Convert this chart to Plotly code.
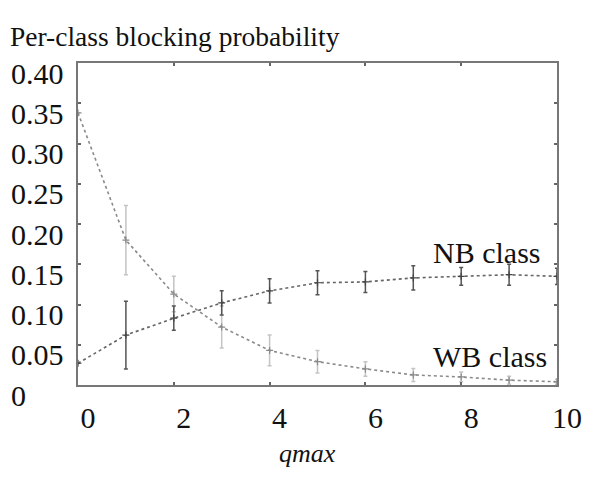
import plotly.graph_objects as go

# ---- data ----
q_max = [0, 1, 2, 3, 4, 5, 6, 7, 8, 9, 10]

nb_prob = [0.027, 0.062, 0.083, 0.102, 0.117, 0.127, 0.128, 0.133, 0.135, 0.137, 0.135]
nb_err = [0.0, 0.042, 0.015, 0.015, 0.015, 0.015, 0.013, 0.015, 0.011, 0.013, 0.010]

wb_prob = [0.338, 0.180, 0.113, 0.072, 0.043, 0.029, 0.020, 0.0125, 0.010, 0.006, 0.004]
wb_err = [0.0, 0.043, 0.022, 0.026, 0.019, 0.014, 0.009, 0.008, 0.006, 0.005, 0.003]

x_tick_vals = [0, 2, 4, 6, 8, 10]
x_tick_text = ["0", "2", "4", "6", "8", "10"]
y_tick_vals = [0.40, 0.35, 0.30, 0.25, 0.20, 0.15, 0.10, 0.05, 0.0]
y_tick_text = ["0.40", "0.35", "0.30", "0.25", "0.20", "0.15", "0.10", "0.05", "0"]

title_text = "Per-class blocking probability"
x_title = "<i>qmax</i>"
series_labels = ["NB class", "WB class"]
label_pos = [(9.71, 0.165), (9.84, 0.035)]

SERIF = "Liberation Serif"
W, H = 594, 481
M_L, M_R, M_T, M_B = 78, 32, 63, 96

fig = go.Figure()

fig.add_trace(go.Scatter(
    x=q_max, y=wb_prob, mode="lines+markers",
    line=dict(color="#8a8a8a", width=1.6, dash="dot"),
    marker=dict(symbol="cross-thin", size=5, line=dict(color="#8a8a8a", width=1.2)),
    error_y=dict(type="data", array=wb_err, visible=True, color="#c4c4c4", thickness=1.5, width=2),
    showlegend=False, cliponaxis=True,
))
fig.add_trace(go.Scatter(
    x=q_max, y=nb_prob, mode="lines+markers",
    line=dict(color="#666666", width=1.6, dash="dot"),
    marker=dict(symbol="cross-thin", size=5, line=dict(color="#444444", width=1.2)),
    error_y=dict(type="data", array=nb_err, visible=True, color="#555555", thickness=1.5, width=2),
    showlegend=False, cliponaxis=True,
))

annotations = []
for (lx, ly), txt in zip(label_pos, series_labels):
    annotations.append(dict(x=lx, y=ly, xref="x", yref="y", text=txt, showarrow=False,
                            xanchor="right", yanchor="middle",
                            font=dict(family=SERIF, size=30, color="#111111")))

# y tick labels (left aligned as in the reference)
plot_w = W - M_L - M_R
for v, t in zip(y_tick_vals, y_tick_text):
    annotations.append(dict(x=(8 - M_L) / plot_w, y=v, xref="paper", yref="y", text=t,
                            showarrow=False, xanchor="left", yanchor="middle", yshift=-10,
                            font=dict(family=SERIF, size=30, color="#111111")))

annotations.append(dict(x=(310 - M_L) / plot_w, y=-(453 - (H - M_B)) / (H - M_T - M_B),
                        xref="paper", yref="paper", text=x_title, showarrow=False,
                        xanchor="center", yanchor="middle",
                        font=dict(family=SERIF, size=26, color="#111111")))

axis_common = dict(showline=True, linecolor="#777777", linewidth=2, mirror="ticks",
                   ticks="inside", ticklen=3, tickwidth=1.5, tickcolor="#666666",
                   showgrid=False, zeroline=False)

fig.update_layout(
    width=W, height=H,
    margin=dict(l=M_L, r=M_R, t=M_T, b=M_B),
    paper_bgcolor="white", plot_bgcolor="white",
    font=dict(family=SERIF),
    title=dict(text=title_text, x=10 / W, xanchor="left", xref="container",
               y=1 - 36 / H, yanchor="middle", yref="container",
               font=dict(family=SERIF, size=27.5, color="#111111")),
    xaxis=dict(range=[0, 10], tickvals=x_tick_vals, ticktext=x_tick_text,
               tickfont=dict(family=SERIF, size=30, color="#111111"),
               ticklabelshift=10, ticklabelstandoff=5, **axis_common),
    yaxis=dict(range=[0, 0.40], tickvals=y_tick_vals, showticklabels=False, **axis_common),
    annotations=annotations,
)

fig.write_html("out.html")
